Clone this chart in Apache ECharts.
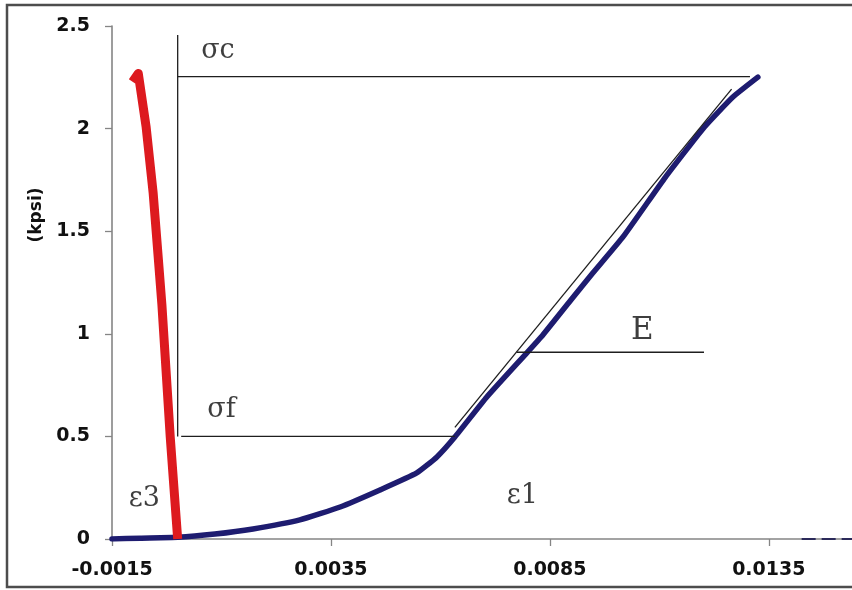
<!DOCTYPE html>
<html>
<head>
<meta charset="utf-8">
<script src="https://cdn.jsdelivr.net/npm/echarts@6/dist/echarts.min.js"></script>
<style>
html,body{margin:0;padding:0;background:#fff;}
#chart{width:852px;height:590px;}
</style>
</head>
<body>
<div id="chart"></div>
<script>
// ---- data ----
const xTickLabels = ['-0.0015', '0.0035', '0.0085', '0.0135'];
const yTickLabels = ['0', '0.5', '1', '1.5', '2', '2.5'];

// axial strain eps1 (blue)
const axialStrain = [-0.0015, -0.00086, 0.0, 0.00085, 0.00172, 0.00279, 0.00371, 0.00462, 0.00546, 0.00592, 0.00633, 0.00706, 0.00797, 0.0083, 0.00898, 0.00948, 0.01017, 0.01114, 0.01203, 0.01268, 0.01325];
const axialStress = [0.0, 0.004, 0.008, 0.024, 0.049, 0.093, 0.156, 0.239, 0.322, 0.4, 0.497, 0.692, 0.906, 0.984, 1.165, 1.296, 1.472, 1.764, 2.008, 2.154, 2.251];

// lateral strain eps3 (red)
const lateralStrain = [0.0, -0.00017, -0.00036, -0.00044, -0.00056, -0.00072, -0.0009, -0.00103];
const lateralStress = [0.0, 0.497, 1.14, 1.36, 1.686, 2.007, 2.269, 2.228];

// tail of the blue record on the axis
const tailStrain = [0.01425, 0.0154];
const tailStress = [0.0, 0.0];

// annotation lines
const sigmaVertX = [0.0, 0.0];
const sigmaVertY = [2.456, 0.5];
const sigmaCX = [0.0, 0.01307];
const sigmaCY = [2.253, 2.253];
const sigmaFX = [0.00008, 0.00633];
const sigmaFY = [0.5, 0.5];
const modulusX = [0.00774, 0.01202];
const modulusY = [0.91, 0.91];
const tangentX = [0.00633, 0.01265];
const tangentY = [0.544, 2.192];

// annotation texts
const noteText = ['σc', 'σf', 'E', 'ε1', 'ε3'];
const noteX = [0.00092, 0.00100, 0.01061, 0.00787, -0.00076];
const noteY = [2.378, 0.629, 1.014, 0.210, 0.195];

const zip = (xs, ys) => xs.map((x, i) => [x, ys[i]]);

const chart = echarts.init(document.getElementById('chart'), null, {renderer: 'canvas'});

const annoLine = (xs, ys) => ({
  type: 'line', data: zip(xs, ys), showSymbol: false, symbol: 'none',
  lineStyle: {color: '#1e1e1e', width: 1.3}, silent: true, z: 5, animation: false
});

const option = {
  animation: false,
  backgroundColor: '#ffffff',
  grid: {left: 112, right: 0, top: 26, bottom: 51, containLabel: false},
  xAxis: {
    type: 'value', min: -0.0015, max: 0.0154, interval: 0.005,
    splitLine: {show: false},
    axisLine: {onZero: false, lineStyle: {color: '#858585', width: 1.6}},
    axisTick: {show: true, inside: false, length: 7, lineStyle: {color: '#858585', width: 1.3}},
    axisLabel: {
      margin: 22, showMaxLabel: false, showMinLabel: true,
      color: '#111111', fontFamily: 'DejaVu Sans', fontWeight: 'bold', fontSize: 19,
      formatter: v => {
        const s = (+v).toFixed(4);
        return xTickLabels.includes(s) ? s : '';
      }
    }
  },
  yAxis: {
    type: 'value', min: 0, max: 2.5, interval: 0.5,
    splitLine: {show: false},
    axisLine: {show: true, onZero: false, lineStyle: {color: '#858585', width: 1.6}},
    axisTick: {show: true, inside: false, length: 7, lineStyle: {color: '#858585', width: 1.3}},
    axisLabel: {
      margin: 22, color: '#111111', fontFamily: 'DejaVu Sans', fontWeight: 'bold', fontSize: 19,
      formatter: v => {
        const i = Math.round(v / 0.5);
        return yTickLabels[i] !== undefined ? yTickLabels[i] : '';
      }
    }
  },
  graphic: [
    {type: 'rect', shape: {x: 7, y: 5, width: 900, height: 582}, style: {fill: 'none', stroke: '#4d4d4d', lineWidth: 2.5}, silent: true, z: 0},
    {type: 'text', x: 37, y: 215, rotation: Math.PI / 2,
     style: {text: '(kpsi)', font: 'bold 17px "DejaVu Sans"', fill: '#111111', textAlign: 'center', textVerticalAlign: 'middle'}, z: 10}
  ],
  series: [
    {
      type: 'line', name: 'eps1', data: zip(axialStrain, axialStress), showSymbol: false, symbol: 'none', smooth: 0.15,
      lineStyle: {color: '#1e1c70', width: 5.5, cap: 'round', join: 'round'}, z: 2
    },
    {
      type: 'line', name: 'tail', data: zip(tailStrain, tailStress), showSymbol: false, symbol: 'none',
      lineStyle: {color: '#2b2a5a', width: 2, type: [14, 6]}, z: 2
    },
    {
      type: 'line', name: 'eps3', data: zip(lateralStrain, lateralStress), showSymbol: false, symbol: 'none',
      lineStyle: {color: '#dd1a1f', width: 9, cap: 'butt', join: 'round'}, z: 3
    },
    annoLine(sigmaVertX, sigmaVertY),
    annoLine(sigmaCX, sigmaCY),
    annoLine(sigmaFX, sigmaFY),
    annoLine(modulusX, modulusY),
    annoLine(tangentX, tangentY),
    {
      type: 'scatter', symbolSize: 0, silent: true, z: 6,
      data: noteText.map((t, i) => ({
        value: [noteX[i], noteY[i]], name: t,
        label: {fontSize: t === 'E' ? 31 : 27}
      })),
      label: {
        show: true, position: 'inside', formatter: p => p.name,
        fontFamily: '"DejaVu Serif"', color: '#0e0e0e', align: 'center', verticalAlign: 'middle'
      }
    }
  ]
};
chart.setOption(option);
</script>
</body>
</html>
